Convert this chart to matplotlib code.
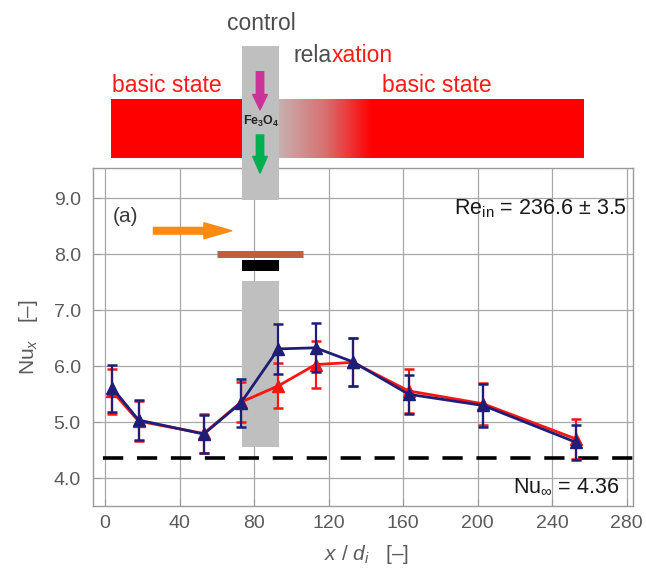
import numpy as np
import matplotlib
matplotlib.use('Agg')
import matplotlib.pyplot as plt
from matplotlib.patches import Rectangle
from matplotlib.colors import LinearSegmentedColormap

plt.rcParams['font.family'] = ['Liberation Sans', 'DejaVu Sans']
plt.rcParams['mathtext.fontset'] = 'custom'
plt.rcParams['mathtext.rm'] = 'Liberation Sans'
plt.rcParams['mathtext.it'] = 'Liberation Sans:italic'
plt.rcParams['mathtext.bf'] = 'Liberation Sans:bold'
plt.rcParams['mathtext.fallback'] = 'stixsans'

# ---------------- data ----------------
x_pos = [4, 18, 53, 73, 93, 113, 133, 163, 203, 253]
nu_red = [5.55, 5.02, 4.80, 5.36, 5.65, 6.03, 6.07, 5.56, 5.33, 4.70]
err_red = [0.40, 0.36, 0.34, 0.36, 0.40, 0.42, 0.43, 0.39, 0.38, 0.35]
nu_blue = [5.61, 5.04, 4.79, 5.35, 6.31, 6.33, 6.08, 5.50, 5.30, 4.64]
err_blue = [0.42, 0.36, 0.34, 0.43, 0.44, 0.44, 0.43, 0.35, 0.38, 0.31]
nu_inf = 4.36
x_ticks = [0, 40, 80, 120, 160, 200, 240, 280]
y_ticks = [4.0, 5.0, 6.0, 7.0, 8.0, 9.0]

# ---------------- figure ----------------
fig = plt.figure(figsize=(6.46, 5.69), dpi=100)
ax = fig.add_axes([0.1444, 0.1112, 0.8355, 0.5935])

GRAY_TXT = '#5A5A5A'
RED = '#FF1414'
NAVY = '#1E1E78'

ax.set_xticks(x_ticks)
ax.set_yticks(y_ticks)
ax.set_yticklabels([f'{v:.1f}' for v in y_ticks])
ax.grid(True, color='#A8A8A8', lw=0.9, zorder=0)
ax.set_axisbelow(True)
for s in ax.spines.values():
    s.set_color('#9A9A9A')
    s.set_linewidth(1.0)
ax.tick_params(axis='both', direction='in', length=5, color='#9A9A9A',
               labelsize=14, labelcolor=GRAY_TXT)
ax.tick_params(axis='y', pad=9)
ax.tick_params(axis='x', pad=7)

# lower gray control band
ax.add_patch(Rectangle((73.7, 4.56), 93.4 - 73.7, 7.52 - 4.56,
                       facecolor='#BFBFBF', edgecolor='none', zorder=1))

# Nu_inf dashed line
ax.hlines(nu_inf, -1, 283.4, colors='black', lw=2.6,
          linestyles=(0, (5.6, 3.8)), zorder=2)

# data series
ax.errorbar(x_pos, nu_red, yerr=err_red, color=RED, ecolor=RED, lw=2.0,
            elinewidth=1.6, capsize=3.6, capthick=1.8, marker='^', ms=8.5,
            mfc=RED, mec=RED, zorder=3)
ax.errorbar(x_pos, nu_blue, yerr=err_blue, color=NAVY, ecolor=NAVY, lw=2.0,
            elinewidth=1.6, capsize=3.6, capthick=1.8, marker='^', ms=8.5,
            mfc=NAVY, mec=NAVY, zorder=4)

# orange flow arrow
ax.annotate('', xy=(68, 8.42), xytext=(26, 8.42),
            arrowprops=dict(arrowstyle='simple,head_length=2.0,head_width=1.15,tail_width=0.48',
                            color='#FF8A12', shrinkA=0, shrinkB=0, mutation_scale=10),
            zorder=5)
# brown and black bars
ax.hlines(8.0, 60, 106.4, colors='#C25D3A', lw=5, capstyle='butt', zorder=5)
ax.add_patch(Rectangle((73.7, 7.71), 93.4 - 73.7, 0.19,
                       facecolor='black', edgecolor='none', zorder=5))

# texts inside axes
ax.text(4.4, 8.67, '(a)', fontsize=15, color='#3A3A3A', va='center', ha='left', zorder=6)
ax.text(280, 8.82, r'Re$_{\mathregular{in}}$ = 236.6 ± 3.5', fontsize=15.5,
        color='#1A1A1A', va='center', ha='right', zorder=6)
ax.text(276.4, 3.85, r'Nu$_{\infty}$ = 4.36', fontsize=15.5,
        color='#1A1A1A', va='center', ha='right', zorder=6)

# ---------------- schematic above the plot ----------------
ax.add_patch(Rectangle((3.1, 9.725), 257.3 - 3.1, 10.77 - 9.725,
                       facecolor='#FF0000', edgecolor='none', zorder=7, clip_on=False))
cmap = LinearSegmentedColormap.from_list('relax', ['#C8B0B0', '#D87070', '#FF0000'])
grad = np.linspace(0, 1, 256).reshape(1, -1)
im = ax.imshow(grad, extent=[93.4, 143, 9.725, 10.77], aspect='auto', cmap=cmap,
               interpolation='bilinear', zorder=8)
im.set_clip_on(False)
ax.add_patch(Rectangle((73.7, 8.97), 93.4 - 73.7, 11.71 - 8.97,
                       facecolor='#BFBFBF', edgecolor='none', zorder=9, clip_on=False))
ax.annotate('', xy=(83.2, 10.58), xytext=(83.2, 11.26),
            arrowprops=dict(arrowstyle='simple,head_length=1.1,head_width=1.06,tail_width=0.53',
                            color='#CC3399', shrinkA=0, shrinkB=0, mutation_scale=10),
            annotation_clip=False, zorder=10)
ax.annotate('', xy=(83.2, 9.45), xytext=(83.2, 10.13),
            arrowprops=dict(arrowstyle='simple,head_length=1.2,head_width=1.06,tail_width=0.53',
                            color='#00B050', shrinkA=0, shrinkB=0, mutation_scale=10),
            annotation_clip=False, zorder=10)
ax.text(83.7, 10.37, r'$\mathbf{Fe_3O_4}$', fontsize=9, color='#222222',
        ha='center', va='center', zorder=11, clip_on=False)

ax.text(65.3, 12.01, 'control', fontsize=16.5, color='#4D4D4D', ha='left',
        va='baseline', clip_on=False)
t1 = ax.text(101.1, 11.44, 'rela', fontsize=16.5, color='#4D4D4D', ha='left',
             va='baseline', clip_on=False)
ax.annotate('xation', xy=(1, 0), xycoords=t1, fontsize=16.5, color='#FF1A1A',
            ha='left', va='bottom', annotation_clip=False)
ax.text(3.6, 10.90, 'basic state', fontsize=16.5, color='#FF1A1A', ha='left',
        va='baseline', clip_on=False)
ax.text(148.5, 10.90, 'basic state', fontsize=16.5, color='#FF1A1A', ha='left',
        va='baseline', clip_on=False)

ax.set_xlim(-6.3, 283.4)
ax.set_ylim(3.51, 9.54)

ax.set_xlabel(r'$x$ / $d_i$   [–]', fontsize=15, color=GRAY_TXT)
ax.xaxis.set_label_coords(0.506, -0.143)
ax.xaxis.label.set_va('center')
ax.set_ylabel(r'Nu$_x$   [–]', fontsize=15, color=GRAY_TXT)
ax.yaxis.set_label_coords(-0.1204, 0.5)
ax.yaxis.label.set_va('center')

fig.savefig('out.png', dpi=100)
